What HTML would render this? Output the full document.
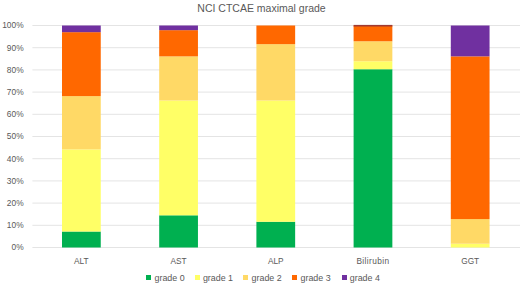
<!DOCTYPE html>
<html><head><meta charset="utf-8"><style>
html,body{margin:0;padding:0;background:#fff;}
body{width:520px;height:283px;position:relative;overflow:hidden;font-family:"Liberation Sans",sans-serif;color:#595959;}
svg{position:absolute;left:0;top:0;}
.title{position:absolute;left:1.5px;width:520px;top:1.9px;text-align:center;font-size:10.5px;line-height:12px;}
.yl{position:absolute;left:0;width:23.6px;text-align:right;font-size:8.4px;line-height:12px;}
.cat{position:absolute;width:80px;text-align:center;top:254.5px;font-size:8.3px;line-height:12px;}
.lsq{position:absolute;top:275px;width:5px;height:5px;}
.lt{position:absolute;top:272.5px;font-size:8.9px;line-height:11px;white-space:nowrap;}
</style></head><body>
<svg width="520" height="283" viewBox="0 0 520 283">
<rect x="32.40" y="247.00" width="487.60" height="1" fill="#E4E4E4"/><rect x="32.40" y="224.80" width="487.60" height="1" fill="#E4E4E4"/><rect x="32.40" y="202.60" width="487.60" height="1" fill="#E4E4E4"/><rect x="32.40" y="180.40" width="487.60" height="1" fill="#E4E4E4"/><rect x="32.40" y="158.20" width="487.60" height="1" fill="#E4E4E4"/><rect x="32.40" y="136.00" width="487.60" height="1" fill="#E4E4E4"/><rect x="32.40" y="113.80" width="487.60" height="1" fill="#E4E4E4"/><rect x="32.40" y="91.60" width="487.60" height="1" fill="#E4E4E4"/><rect x="32.40" y="69.40" width="487.60" height="1" fill="#E4E4E4"/><rect x="32.40" y="47.20" width="487.60" height="1" fill="#E4E4E4"/><rect x="32.40" y="25.00" width="487.60" height="1" fill="#E4E4E4"/><rect x="62.00" y="231.52" width="38.75" height="15.98" fill="#00B050"/><rect x="62.00" y="149.38" width="38.75" height="82.14" fill="#FFFF66"/><rect x="62.00" y="96.10" width="38.75" height="53.28" fill="#FFD966"/><rect x="62.00" y="32.16" width="38.75" height="63.94" fill="#FF6800"/><rect x="62.00" y="25.50" width="38.75" height="6.66" fill="#7030A0"/><rect x="159.20" y="215.31" width="38.75" height="32.19" fill="#00B050"/><rect x="159.20" y="100.54" width="38.75" height="114.77" fill="#FFFF66"/><rect x="159.20" y="56.36" width="38.75" height="44.18" fill="#FFD966"/><rect x="159.20" y="30.16" width="38.75" height="26.20" fill="#FF6800"/><rect x="159.20" y="25.50" width="38.75" height="4.66" fill="#7030A0"/><rect x="256.40" y="221.75" width="38.75" height="25.75" fill="#00B050"/><rect x="256.40" y="100.54" width="38.75" height="121.21" fill="#FFFF66"/><rect x="256.40" y="44.15" width="38.75" height="56.39" fill="#FFD966"/><rect x="256.40" y="25.50" width="38.75" height="18.65" fill="#FF6800"/><rect x="353.60" y="69.23" width="38.75" height="178.27" fill="#00B050"/><rect x="353.60" y="61.24" width="38.75" height="7.99" fill="#FFFF66"/><rect x="353.60" y="41.26" width="38.75" height="19.98" fill="#FFD966"/><rect x="353.60" y="25.50" width="38.75" height="15.76" fill="#FF6800"/><rect x="353.60" y="24.9" width="38.75" height="1.6" fill="#A03A32"/><rect x="450.80" y="243.73" width="38.75" height="3.77" fill="#FFFF66"/><rect x="450.80" y="219.08" width="38.75" height="24.64" fill="#FFD966"/><rect x="450.80" y="56.36" width="38.75" height="162.73" fill="#FF6800"/><rect x="450.80" y="25.50" width="38.75" height="30.86" fill="#7030A0"/>
</svg>
<div class="title">NCI CTCAE maximal grade</div>
<div class="yl" style="top:241.30px">0%</div><div class="yl" style="top:219.10px">10%</div><div class="yl" style="top:196.90px">20%</div><div class="yl" style="top:174.70px">30%</div><div class="yl" style="top:152.50px">40%</div><div class="yl" style="top:130.30px">50%</div><div class="yl" style="top:108.10px">60%</div><div class="yl" style="top:85.90px">70%</div><div class="yl" style="top:63.70px">80%</div><div class="yl" style="top:41.50px">90%</div><div class="yl" style="top:19.30px">100%</div>
<div class="cat" style="left:41.38px;">ALT</div><div class="cat" style="left:138.57px;">AST</div><div class="cat" style="left:235.77px;">ALP</div><div class="cat" style="left:332.98px;letter-spacing:0.4px;">Bilirubin</div><div class="cat" style="left:430.18px;">GGT</div>
<div class="lsq" style="left:146.3px;background:#00B050"></div><div class="lt" style="left:154.5px">grade 0</div><div class="lsq" style="left:194.7px;background:#FFFF66"></div><div class="lt" style="left:202.9px">grade 1</div><div class="lsq" style="left:243.4px;background:#FFD966"></div><div class="lt" style="left:251.6px">grade 2</div><div class="lsq" style="left:292.3px;background:#FF6800"></div><div class="lt" style="left:300.5px">grade 3</div><div class="lsq" style="left:341.6px;background:#7030A0"></div><div class="lt" style="left:349.8px">grade 4</div>
</body></html>
